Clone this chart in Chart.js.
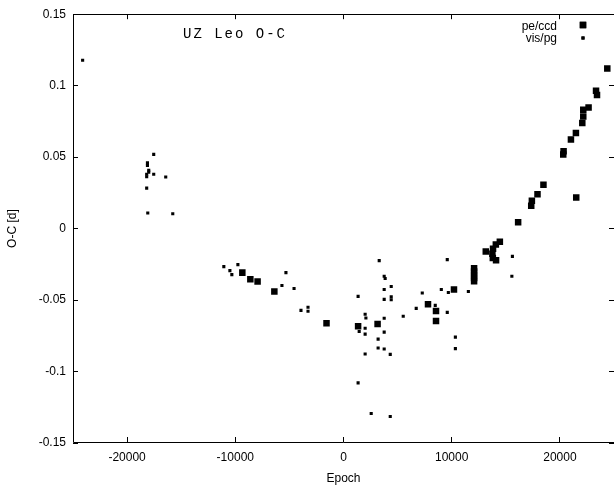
<!DOCTYPE html>
<html>
<head>
<meta charset="utf-8">
<script src="https://cdn.jsdelivr.net/npm/chart.js@4/dist/chart.umd.min.js"></script>
<style>
    html, body { margin: 0; padding: 0; background: #fff; overflow: hidden; }
    #wrap { width: 614px; height: 487px; }
</style>
</head>
<body>
<div id="wrap"><canvas id="ocChart"></canvas></div>
<script>
// Graduations des axes
const xTicks = [-20000, -10000, 0, 10000, 20000];
const yTicks = [-0.15, -0.1, -0.05, 0, 0.05, 0.1, 0.15];

// Mesures pe/ccd (gros carrés)
const peEpoch = [-9350, -8610, -7940, -6390, -1570, 1350, 3150, 7810, 8550, 8550,
    10210, 12070, 12070, 12070, 12070, 12070, 13150, 13760, 13800, 13820, 14080, 14100, 14450,
    16140, 17350, 17410, 17930, 18480, 20310, 20340, 21020, 21480, 21510,
    22070, 22160, 22160, 22650, 23340, 23430, 24380];
const peOC = [-0.0308, -0.0354, -0.0370, -0.0440, -0.0662, -0.0683, -0.0667, -0.0530, -0.0576, -0.0646,
    -0.0426, -0.0278, -0.0300, -0.0325, -0.0345, -0.0368, -0.0160, -0.0176, -0.0205, -0.0141, -0.0111, -0.0222, -0.0092,
    0.0044, 0.0160, 0.0194, 0.0241, 0.0306, 0.0519, 0.0542, 0.0623, 0.0669, 0.0218,
    0.0738, 0.0785, 0.0831, 0.0847, 0.0965, 0.0935, 0.1120];

// Mesures vis/pg (petits carrés)
const visEpoch = [-24110, -17540, -18120, -18120, -18000, -18000, -18190, -18190, -17540, -16430,
    -18190, -18090, -15780, -11060, -9760, -10500, -10320, -5320, -5690, -4570,
    -3930, -3280, -3280, 3300, 3760, 3850, 4410, 3760, 1350, 4410,
    4410, 3760, 6720, 5520, 2000, 2070, 3760, 1450, 2000, 3760,
    2000, 3200, 3200, 3760, 2000, 4320, 1350, 2560, 4320, 7280,
    8480, 9590, 9040, 9690, 11540, 9590, 10340, 10340, 15610, 15560];
const visOC = [0.1178, 0.0519, 0.0460, 0.0442, 0.0408, 0.0395, 0.0380, 0.0363, 0.0380, 0.0361,
    0.0283, 0.0109, 0.0104, -0.0266, -0.0252, -0.0294, -0.0322, -0.0308, -0.0398, -0.0419,
    -0.0572, -0.0550, -0.0578, -0.0224, -0.0333, -0.0349, -0.0405, -0.0426, -0.0474, -0.0477,
    -0.0498, -0.0495, -0.0558, -0.0613, -0.0599, -0.0625, -0.0627, -0.0720, -0.0697, -0.0724,
    -0.0738, -0.0773, -0.0835, -0.0842, -0.0877, -0.0880, -0.1079, -0.1294, -0.1315, -0.0451,
    -0.0537, -0.0586, -0.0426, -0.0447, -0.0440, -0.0217, -0.0759, -0.0840, -0.0194, -0.0333];

const SANS = '"Liberation Sans", Arial, sans-serif';
const TICK_LEN = 5;

function toPoints(xs, ys) {
    return xs.map((x, i) => ({ x, y: ys[i] }));
}

// Cadre, graduations intérieures, titre et légende (style gnuplot)
const gnuplotFrame = {
    id: "gnuplotFrame",
    afterDatasetsDraw(chart) {
        const { ctx, chartArea: a, scales } = chart;
        const px = v => Math.floor(v) + 0.5;

        ctx.save();
        ctx.strokeStyle = "#000";
        ctx.lineWidth = 1;
        ctx.beginPath();
        // bord droit hors du canvas
        ctx.moveTo(a.right, px(a.top));
        ctx.lineTo(px(a.left), px(a.top));
        ctx.lineTo(px(a.left), px(a.bottom - 1));
        ctx.lineTo(a.right, px(a.bottom - 1));

        scales.x.ticks.forEach(t => {
            const x = px(scales.x.getPixelForValue(t.value));
            ctx.moveTo(x, a.bottom - 1);
            ctx.lineTo(x, a.bottom - 1 - TICK_LEN);
            ctx.moveTo(x, a.top);
            ctx.lineTo(x, a.top + TICK_LEN);
        });
        scales.y.ticks.forEach(t => {
            const y = px(scales.y.getPixelForValue(t.value));
            ctx.moveTo(a.left, y);
            ctx.lineTo(a.left + TICK_LEN, y);
            ctx.moveTo(a.right, y);
            ctx.lineTo(a.right - TICK_LEN, y);
        });
        ctx.stroke();

        // titre
        ctx.fillStyle = "#000";
        ctx.font = '14px "Liberation Mono", "Courier New", monospace';
        ctx.letterSpacing = "2px";
        ctx.textAlign = "left";
        ctx.textBaseline = "alphabetic";
        ctx.fillText("UZ Leo O-C", 183, 38);
        ctx.letterSpacing = "0px";

        // légende
        ctx.font = "12px " + SANS;
        ctx.textAlign = "right";
        const rows = [[0, 29.5, 25], [1, 42, 38]];
        rows.forEach(([i, textY, markY]) => {
            const ds = chart.data.datasets[i];
            ctx.fillText(ds.label, 557, textY);
            Chart.helpers.drawPoint(ctx, {
                pointStyle: "rect",
                radius: ds.pointRadius,
                rotation: 0,
                borderWidth: 0
            }, 583, markY);
            ctx.fill();
        });
        ctx.restore();
    }
};

new Chart(document.getElementById("ocChart"), {
    type: "scatter",
    data: {
        datasets: [
            {
                label: "pe/ccd",
                data: toPoints(peEpoch, peOC),
                pointStyle: "rect",
                pointRadius: 4.6,
                pointBorderWidth: 0,
                pointBackgroundColor: "#000",
                pointBorderColor: "#000"
            },
            {
                label: "vis/pg",
                data: toPoints(visEpoch, visOC),
                pointStyle: "rect",
                pointRadius: 2.2,
                pointBorderWidth: 0,
                pointBackgroundColor: "#000",
                pointBorderColor: "#000"
            }
        ]
    },
    options: {
        responsive: true,
        maintainAspectRatio: false,
        animation: false,
        layout: { autoPadding: false, padding: { top: 13, right: 0, bottom: 0, left: 0 } },
        plugins: {
            legend: { display: false },
            tooltip: { enabled: false }
        },
        scales: {
            x: {
                type: "linear",
                min: -25000,
                max: 25000,
                afterBuildTicks: s => { s.ticks = xTicks.map(v => ({ value: v })); },
                afterFit: s => { s.height = 44; },
                grid: { display: false, drawTicks: false },
                border: { display: false },
                ticks: {
                    autoSkip: false,
                    maxRotation: 0,
                    padding: 7,
                    color: "#000",
                    font: { family: SANS, size: 12 },
                    callback: v => String(v)
                },
                title: {
                    display: true,
                    text: "Epoch",
                    color: "#000",
                    font: { family: SANS, size: 12 },
                    padding: { top: 0, bottom: 1 }
                }
            },
            y: {
                type: "linear",
                min: -0.15,
                max: 0.15,
                afterBuildTicks: s => { s.ticks = yTicks.map(v => ({ value: v })); },
                afterFit: s => { s.width = 73; },
                grid: { display: false, drawTicks: false },
                border: { display: false },
                ticks: {
                    autoSkip: false,
                    padding: 7,
                    color: "#000",
                    font: { family: SANS, size: 12 },
                    callback: v => String(Number(v.toFixed(2)))
                },
                title: {
                    display: true,
                    text: "O-C [d]",
                    color: "#000",
                    font: { family: SANS, size: 12 },
                    padding: { top: 5, bottom: 0 }
                }
            }
        }
    },
    plugins: [gnuplotFrame]
});
</script>
</body>
</html>
